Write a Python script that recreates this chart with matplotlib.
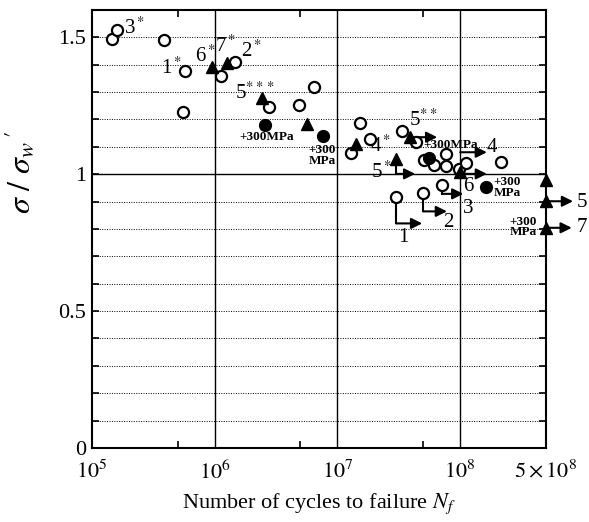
import numpy as np
import matplotlib
matplotlib.use('Agg')
import matplotlib.pyplot as plt
from matplotlib.ticker import FixedLocator, NullFormatter

plt.rcParams['font.family'] = ['Liberation Serif', 'DejaVu Serif']
plt.rcParams['mathtext.fontset'] = 'stix'

# open circles
open_n = [1.47e5, 1.6e5, 3.9e5, 5.7e5, 5.5e5, 1.13e6, 1.46e6, 2.76e6, 4.9e6, 6.5e6,
          1.54e7, 1.83e7, 1.3e7, 3.36e7, 4.37e7, 5.1e7, 6.07e7, 7.66e7, 7.66e7, 9.8e7,
          1.11e8, 2.14e8, 3.0e7, 4.98e7, 7.1e7]
open_s = [1.494, 1.527, 1.49, 1.378, 1.226, 1.36, 1.409, 1.247, 1.254, 1.317,
          1.186, 1.129, 1.077, 1.157, 1.119, 1.05, 1.032, 1.074, 1.029, 1.02,
          1.04, 1.044, 0.916, 0.931, 0.959]

# filled triangles
tri_n = [9.6e5, 1.25e6, 2.41e6, 5.7e6, 1.43e7, 3.92e7, 3.02e7, 1.0e8, 5e8, 5e8, 5e8]
tri_s = [1.39, 1.405, 1.279, 1.184, 1.111, 1.135, 1.056, 1.007, 0.977, 0.901, 0.804]

# filled circles (+300 MPa)
full_n = [2.55e6, 7.7e6, 5.6e7, 1.63e8]
full_s = [1.181, 1.139, 1.06, 0.953]

# runout arrows: start N, start level, drop-to level, arrow end N
run_n0 = [3.0e7, 4.98e7, 7.1e7, 3.02e7, 3.92e7, 1.0e8, 1.0e8, 5e8, 5e8]
run_s0 = [0.916, 0.931, 0.959, 1.056, 1.135, 1.08, 1.007, 0.901, 0.804]
run_s1 = [0.820, 0.864, 0.928, 1.001, 1.135, 1.08, 1.001, 0.901, 0.804]
run_n1 = [4.9e7, 7.8e7, 1.06e8, 4.3e7, 6.5e7, 1.65e8, 1.65e8, 8.3e8, 8.1e8]

# point labels
lab_text = ['3$^*$', '1$^*$', '6$^*$', '7$^*$', '2$^*$', '5$^{***}$', '4$^*$', '5$^{**}$',
            '5$^*$', '4', '6', '3', '2', '1', '5', '7']
lab_n = [2.24e5, 4.47e5, 8.45e5, 1.23e6, 2.0e6, 2.15e6, 2.24e7, 5.0e7,
         2.28e7, 1.81e8, 1.16e8, 1.17e8, 8.04e7, 3.42e7, 9.75e8, 9.75e8]
lab_s = [1.532, 1.389, 1.430, 1.466, 1.448, 1.295, 1.101, 1.196,
         1.006, 1.099, 0.955, 0.874, 0.825, 0.770, 0.898, 0.804]

mpa_text = ['+300MPa', '+300\nMPa', '+300MPa', '+300\nMPa', '+300\nMPa']
mpa_n = [2.63e6, 7.5e6, 8.3e7, 2.4e8, 3.25e8]
mpa_s = [1.135, 1.068, 1.108, 0.951, 0.807]

fig = plt.figure(figsize=(5.89, 5.22), dpi=100)
ax = fig.add_axes([0.156, 0.142, 0.771, 0.839])
ax.set_xscale('log')
ax.set_xlim(1e5, 5e8)
ax.set_ylim(0, 1.6)

# grid
for v in np.arange(0.1, 1.6, 0.1):
    if abs(v - 1.0) < 1e-6:
        ax.axhline(v, color='k', lw=1.0, zorder=1)
    else:
        ax.axhline(v, color='k', lw=0.7, ls=(0, (1, 1.5)), zorder=1)
for d in [1e6, 1e7, 1e8]:
    ax.axvline(d, color='k', lw=1.0, zorder=1)

# runouts
for n0, s0, s1, n1 in zip(run_n0, run_s0, run_s1, run_n1):
    if s0 != s1:
        ax.plot([n0, n0], [s0, s1], color='k', lw=1.5, zorder=2, clip_on=False)
    ax.annotate('', xy=(n1, s1), xytext=(n0, s1), annotation_clip=False,
                arrowprops=dict(arrowstyle='-|>', color='k', lw=1.5,
                                mutation_scale=16, shrinkA=0, shrinkB=0), zorder=2)

ax.plot(open_n, open_s, 'o', ms=8, mfc='white', mec='k', mew=1.6, zorder=3, clip_on=False)
ax.plot(tri_n, tri_s, '^', ms=8, color='k', zorder=4, clip_on=False)
ax.plot(full_n, full_s, 'o', ms=8.5, color='k', zorder=4, clip_on=False)

for t, n, s in zip(lab_text, lab_n, lab_s):
    ax.text(n, s, t, fontsize=15, ha='center', va='center', zorder=5)
for t, n, s in zip(mpa_text, mpa_n, mpa_s):
    ax.text(n, s, t, fontsize=9.5, fontweight='bold', ha='center', va='center',
            linespacing=0.8, zorder=5)

# ticks
ax.xaxis.set_major_locator(FixedLocator([1e5, 1e6, 1e7, 1e8, 5e8]))
ax.set_xticklabels(['$10^5$', '$10^6$', '$10^7$', '$10^8$', r'$5\times10^8$'])
ax.xaxis.set_minor_locator(FixedLocator([5e5, 5e6, 5e7]))
ax.xaxis.set_minor_formatter(NullFormatter())
ax.set_yticks([0, 0.5, 1.0, 1.5])
ax.set_yticklabels(['0', '0.5', '1', '1.5'])
ax.set_yticks(np.arange(0, 1.61, 0.1), minor=True)
ax.tick_params(which='both', direction='in', top=True, right=True, labelsize=16, width=1.2)
ax.tick_params(which='major', length=0)
ax.tick_params(axis='x', which='major', pad=9)
ax.tick_params(axis='y', which='major', pad=4, length=5)
ax.tick_params(which='minor', length=5)
for sp in ax.spines.values():
    sp.set_linewidth(1.5)

ax.set_xlabel('Number of cycles to failure $N_f$', fontsize=16, labelpad=6)
ax.set_ylabel(r"$\sigma\ /\ \sigma_w\,'$", fontsize=23)
ax.yaxis.set_label_coords(-0.12, 0.63)

fig.savefig('out.png', dpi=100)
